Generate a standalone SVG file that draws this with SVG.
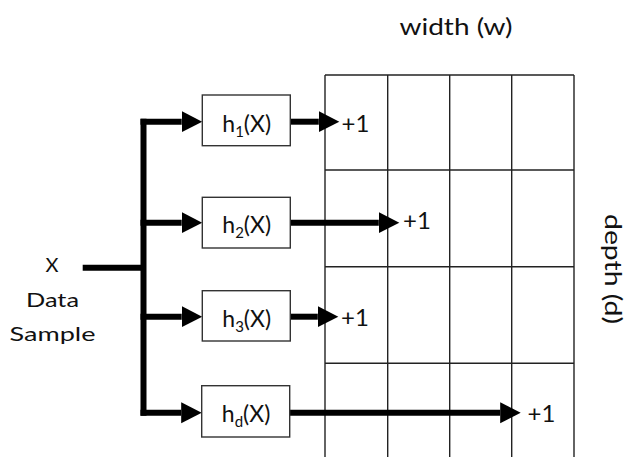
<svg xmlns="http://www.w3.org/2000/svg" width="627" height="457" viewBox="0 0 627 457">
  <style>
    text { font-family: Lato, "Open Sans", "Liberation Sans", sans-serif; fill: #111; }
    .grid line { stroke: #222; stroke-width: 1.4; }
    .box { fill: #fff; stroke: #333; stroke-width: 1.4; }
    .wire { fill: none; stroke: #000; stroke-width: 6; }
    .lbl { font-size: 23px; text-anchor: middle; }
    .inc { font-size: 24px; }
    .axis { font-size: 24px; text-anchor: middle; }
    .side { font-size: 20px; text-anchor: middle; }
  </style>
  <defs>
    <marker id="head" markerUnits="userSpaceOnUse" markerWidth="21" markerHeight="22" refX="0" refY="10.5" orient="auto">
      <path d="M0,0 L20.5,10.5 L0,21 Z" fill="#000"/>
    </marker>
  </defs>

  <rect width="627" height="457" fill="#fff"/>

  <!-- count-min sketch table: w columns by d rows -->
  <g id="table" class="grid">
    <line x1="325" y1="75" x2="325" y2="457"/>
    <line x1="387.7" y1="75" x2="387.7" y2="457"/>
    <line x1="449.7" y1="75" x2="449.7" y2="457"/>
    <line x1="511.7" y1="75" x2="511.7" y2="457"/>
    <line x1="574" y1="75" x2="574" y2="457"/>
    <line x1="325" y1="75" x2="574" y2="75"/>
    <line x1="325" y1="170" x2="574" y2="170"/>
    <line x1="325" y1="266.7" x2="574" y2="266.7"/>
    <line x1="325" y1="363.3" x2="574" y2="363.3"/>
  </g>

  <text id="width-label" class="axis" x="456" y="35" textLength="113" lengthAdjust="spacingAndGlyphs">width (w)</text>
  <text id="depth-label" class="axis" font-size="23" transform="translate(604.5,269) rotate(90)" textLength="110" lengthAdjust="spacingAndGlyphs">depth (d)</text>

  <g id="input">
    <text class="side" x="52" y="272">X</text>
    <text class="side" x="52.5" y="306.5" textLength="53" lengthAdjust="spacingAndGlyphs">Data</text>
    <text class="side" x="52.5" y="340.5" textLength="86" lengthAdjust="spacingAndGlyphs">Sample</text>
  </g>

  <g id="connectors">
    <path class="wire" d="M82.7 267.7 H143.5"/>
    <path class="wire" d="M143.5 118.7 V415.7"/>
    <path class="wire" d="M140.5 121.7 H181.7" marker-end="url(#head)"/>
    <path class="wire" d="M140.5 222.7 H181.7" marker-end="url(#head)"/>
    <path class="wire" d="M140.5 316.7 H181.7" marker-end="url(#head)"/>
    <path class="wire" d="M140.5 412.7 H181.2" marker-end="url(#head)"/>
    <path class="wire" d="M290.3 121.7 H318.8" marker-end="url(#head)"/>
    <path class="wire" d="M290.3 222.7 H378.8" marker-end="url(#head)"/>
    <path class="wire" d="M290.3 316.7 H317.8" marker-end="url(#head)"/>
    <path class="wire" d="M289.7 412.7 H500.2" marker-end="url(#head)"/>
  </g>

  <g id="h1">
    <rect class="box" x="202.3" y="95" width="88" height="50.7"/>
    <text class="lbl" x="246.7" y="131.5">h<tspan font-size="15" dy="5">1</tspan><tspan dy="-5">(X)</tspan></text>
  </g>
  <g id="h2">
    <rect class="box" x="202.3" y="197.3" width="88" height="50.7"/>
    <text class="lbl" x="246.7" y="232.5">h<tspan font-size="15" dy="5">2</tspan><tspan dy="-5">(X)</tspan></text>
  </g>
  <g id="h3">
    <rect class="box" x="202.3" y="290.7" width="88" height="50.3"/>
    <text class="lbl" x="246.7" y="326.5">h<tspan font-size="15" dy="5">3</tspan><tspan dy="-5">(X)</tspan></text>
  </g>
  <g id="hd">
    <rect class="box" x="201.7" y="385.7" width="88" height="51.3"/>
    <text class="lbl" x="246.1" y="422">h<tspan font-size="15" dy="5">d</tspan><tspan dy="-5">(X)</tspan></text>
  </g>

  <g id="increments">
    <text class="inc" x="341.5" y="131.7">+1</text>
    <text class="inc" x="403" y="229">+1</text>
    <text class="inc" x="341" y="325.5">+1</text>
    <text class="inc" x="527.5" y="421.7">+1</text>
  </g>
</svg>
